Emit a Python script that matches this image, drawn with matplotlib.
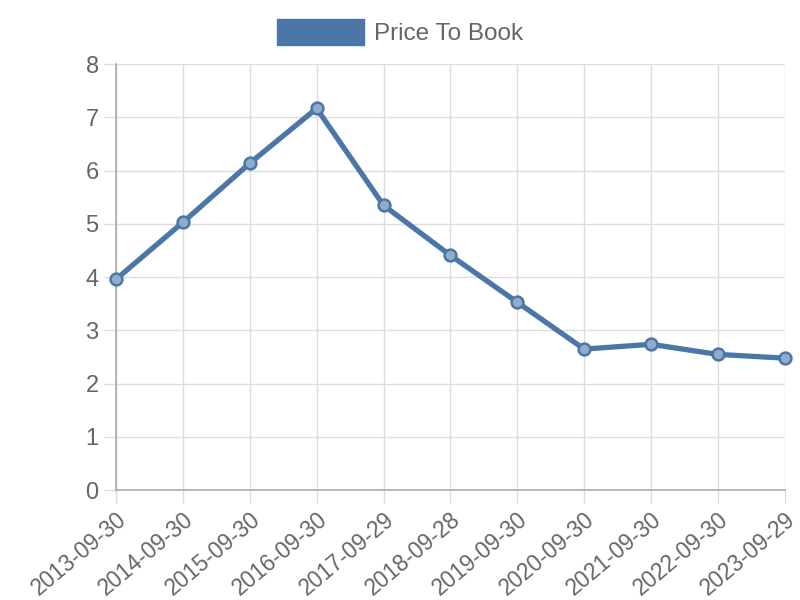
import matplotlib
matplotlib.use("Agg")
import matplotlib.pyplot as plt
from matplotlib.patches import Patch

plt.rcParams['font.family'] = ['Liberation Sans', 'DejaVu Sans']

# data
dates = ['2013-09-30', '2014-09-30', '2015-09-30', '2016-09-30', '2017-09-29',
         '2018-09-28', '2019-09-30', '2020-09-30', '2021-09-30', '2022-09-30',
         '2023-09-29']
price_to_book = [3.96, 5.03, 6.14, 7.17, 5.35, 4.41, 3.53, 2.65, 2.74, 2.55, 2.48]

line_color = '#4a76a8'
text_color = '#666666'

fig = plt.figure(figsize=(8, 6), dpi=100)
ax = fig.add_axes([0.145, 0.183, 0.836, 0.710])

x = list(range(len(dates)))
ax.plot(x, price_to_book, color=line_color, linewidth=3.8, zorder=3,
        marker='o', markersize=8.5, markerfacecolor='#90acca',
        markeredgecolor=line_color, markeredgewidth=1.8, clip_on=False)

ax.set_xlim(0, len(dates) - 1)
ax.set_ylim(0, 8)
ax.set_yticks(range(0, 9))
ax.set_xticks(x)
ax.set_xticklabels(dates, rotation=40, ha='right', rotation_mode='anchor')

ax.grid(True, color='#dddddd', linewidth=1)
ax.set_axisbelow(True)
for side in ['top', 'right']:
    ax.spines[side].set_visible(False)
for side in ['left', 'bottom']:
    ax.spines[side].set_color('#aaaaaa')
    ax.spines[side].set_linewidth(1.2)
ax.tick_params(axis='both', colors='#dddddd', labelcolor=text_color,
               length=9, width=1, pad=3.5)
ax.tick_params(axis='y', labelsize=17)
ax.tick_params(axis='x', labelsize=16.3)

handle = Patch(facecolor=line_color, edgecolor=line_color)
fig.legend([handle], ['Price To Book'], loc='upper center',
           bbox_to_anchor=(0.5, 1.005), frameon=False, fontsize=17.5,
           handlelength=3.6, handleheight=1.3, handletextpad=0.4,
           labelcolor=text_color)

fig.savefig('out.png', dpi=100)
